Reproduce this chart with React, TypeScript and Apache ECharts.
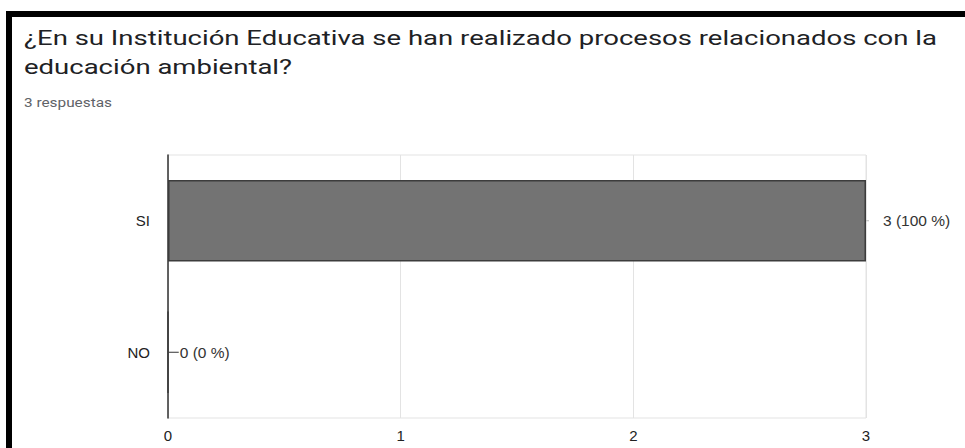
import React, { useEffect, useRef } from "react";
import * as echarts from "echarts";

const titleLines = [
  "¿En su Institución Educativa se han realizado procesos relacionados con la",
  "educación ambiental?",
];
const subtitle = "3 respuestas";
const categories = ["SI", "NO"];
const values = [3, 0];
const percents = ["100 %", "0 %"];
const xTicks = [0, 1, 2, 3];

export default function App() {
  const ref = useRef<HTMLDivElement>(null);
  useEffect(() => {
    if (!ref.current) return;
    const chart = echarts.init(ref.current, null, { renderer: "svg" });
    chart.setOption({
      animation: false,
      backgroundColor: "#ffffff",
      graphic: [
        { type: "rect", shape: { x: 6, y: 11, width: 6, height: 437 }, style: { fill: "#000" } },
        { type: "rect", shape: { x: 6, y: 11, width: 959, height: 6 }, style: { fill: "#000" } },
        {
          type: "text",
          x: 24,
          y: 23,
          scaleX: 1.31,
          style: {
            text: titleLines.join("\n"),
            font: "400 21px Roboto",
            fill: "#202124",
            lineHeight: 29,
          },
        },
        {
          type: "text",
          x: 24,
          y: 97,
          scaleX: 1.28,
          style: { text: subtitle, font: "400 12px Roboto", fill: "#5f6368" },
        },
      ],
      grid: {
        left: 168,
        right: 99,
        top: 155,
        bottom: 30,
        show: true,
        borderColor: "#e3e3e3",
        borderWidth: 1,
      },
      xAxis: {
        type: "value",
        min: xTicks[0],
        max: xTicks[xTicks.length - 1],
        interval: 1,
        axisLine: { show: false },
        axisTick: { show: false },
        splitLine: { lineStyle: { color: "#e3e3e3", width: 1 } },
        axisLabel: { color: "#222", fontSize: 15, fontFamily: "Arial", margin: 10 },
      },
      yAxis: {
        type: "category",
        data: categories,
        inverse: true,
        axisLine: { show: true, lineStyle: { color: "#333", width: 1.5 } },
        axisTick: { show: false },
        splitLine: { show: false },
        axisLabel: { color: "#222", fontSize: 15, fontFamily: "Arial", margin: 18 },
      },
      series: [
        {
          type: "bar",
          data: values,
          barWidth: "62%",
          itemStyle: { color: "#737373", borderColor: "#3c3c3c", borderWidth: 1.5 },
          label: {
            show: true,
            position: "right",
            distance: 0,
            formatter: (p: any) =>
              p.value > 0
                ? `{s|}{t|${p.value} (${percents[p.dataIndex]})}`
                : `{l|}{z|${p.value} (${percents[p.dataIndex]})}`,
            rich: {
              s: { width: 3, height: 1, backgroundColor: "#bbb" },
              t: { color: "#333", fontSize: 15.5, fontFamily: "Arial", padding: [0, 0, 0, 14] },
              l: { width: 10, height: 1, backgroundColor: "#333" },
              z: { color: "#333", fontSize: 15.5, fontFamily: "Arial", padding: [0, 0, 0, 1] },
            },
          },
        },
      ],
    });
    return () => chart.dispose();
  }, []);
  return (
    <div
      ref={ref}
      style={{ position: "fixed", left: 0, top: 0, width: 965, height: 448 }}
    />
  );
}
